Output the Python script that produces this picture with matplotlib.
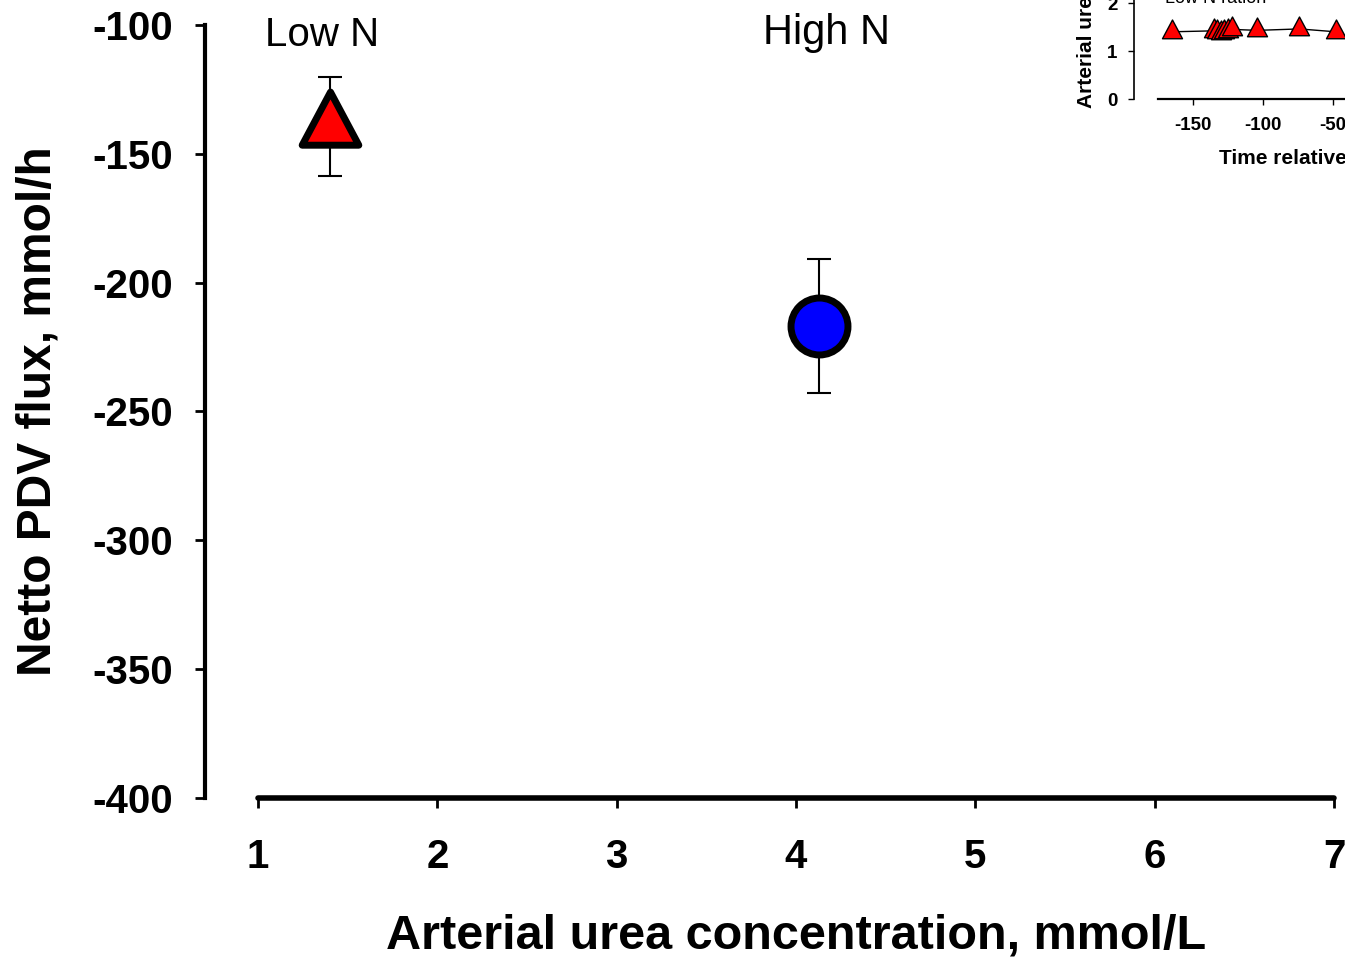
import numpy as np
import matplotlib
matplotlib.use("Agg")
import matplotlib.pyplot as plt
from matplotlib.path import Path
from matplotlib.markers import MarkerStyle

plt.rcParams['font.family'] = ['Liberation Sans', 'DejaVu Sans']
plt.rcParams['axes.unicode_minus'] = False

# main panel: mean arterial urea vs netto PDV flux
groups = ["Low N", "High N"]
urea = [1.40, 4.13]
flux = [-139.5, -217.0]
flux_err = [19.2, 26.0]

# inset: arterial urea over time, low N ration
time_inset = [-165, -135, -133, -130, -128, -125, -122, -104, -74, -48]
urea_inset = [1.40, 1.42, 1.40, 1.38, 1.40, 1.42, 1.45, 1.43, 1.46, 1.40]
urea_inset_err = [0.05, 0.06, 0.05, 0.05, 0.05, 0.06, 0.08, 0.06, 0.05, 0.05]

# triangle centred on its centroid (as the original software draws it)
tri = MarkerStyle(Path([(0, 1), (-0.8, -0.5), (0.8, -0.5), (0, 1)],
                       [Path.MOVETO, Path.LINETO, Path.LINETO, Path.CLOSEPOLY]),
                  joinstyle="round")

W, H = 1345, 959
fig = plt.figure(figsize=(W / 100, H / 100), dpi=100)

# main axes, positions in pixels
x0, x1 = 205, 1334
y_top, y_bot = 25, 798
ax = fig.add_axes([x0 / W, 1 - y_bot / H, (x1 - x0) / W, (y_bot - y_top) / H])
ax.set_xlim(1 - (258 - 205) / ((1334 - 258) / 6), 7)
ax.set_ylim(-400, -100)

for sp in ["top", "right"]:
    ax.spines[sp].set_visible(False)
ax.spines["left"].set_linewidth(3)
ax.spines["bottom"].set_linewidth(4)
ax.spines["bottom"].set_bounds(1, 7)
ax.spines["bottom"].set_capstyle("round")

ax.set_xticks(range(1, 8))
ax.set_yticks(range(-400, -99, 50))
ax.tick_params(axis="both", direction="out", length=7, width=2)
ax.tick_params(axis="x", pad=22, labelsize=29)
ax.tick_params(axis="y", pad=16, labelsize=29)
for lab in ax.get_xticklabels() + ax.get_yticklabels():
    lab.set_fontweight("bold")

ax.errorbar(urea, flux, yerr=flux_err, fmt="none", ecolor="black",
            elinewidth=1.5, capsize=8.5, capthick=1.5, clip_on=False, zorder=2)
ax.plot(urea[0], flux[0], marker=tri, ms=51, mfc="red", mec="black", mew=5,
        ls="none", clip_on=False, zorder=3)
ax.plot(urea[1], flux[1], marker="o", ms=41, mfc="blue", mec="black", mew=5,
        ls="none", clip_on=False, zorder=3)

ax.text(urea[0] - 0.04, -104, groups[0], fontsize=29, ha="center", va="center")
ax.text(urea[1] + 0.04, -103, groups[1], fontsize=30, ha="center", va="center")

ax.set_xlabel("Arterial urea concentration, mmol/L", fontsize=35,
              fontweight="bold")
ax.xaxis.set_label_coords((796 - x0) / (x1 - x0), -(913 - y_bot) / (y_bot - y_top))
ax.set_ylabel("Netto PDV flux, mmol/h", fontsize=34.5, fontweight="bold")
ax.yaxis.set_label_coords(-(x0 - 61) / (x1 - x0), (y_bot - 411) / (y_bot - y_top))

# inset axes (partly outside the figure, as in the cropped original)
px_per_t = 70 / 50
ix0 = 1134
t_left = -150 - (1193 - ix0) / px_per_t
t_right = 0
iy0 = 99
px_per_u = 48
ax2 = fig.add_axes([ix0 / W, 1 - iy0 / H, (t_right - t_left) * px_per_t / W,
                    3 * px_per_u / H])
ax2.set_xlim(t_left, t_right)
ax2.set_ylim(0, 3)
for sp in ["top", "right"]:
    ax2.spines[sp].set_visible(False)
ax2.spines["left"].set_linewidth(1.2)
ax2.spines["bottom"].set_linewidth(1.6)
ax2.spines["bottom"].set_bounds(-175, t_right)
ax2.set_xticks([-150, -100, -50])
ax2.set_yticks([0, 1, 2])
ax2.tick_params(axis="both", direction="out", length=4, width=1, labelsize=13.5)
ax2.tick_params(axis="x", pad=9)
ax2.tick_params(axis="y", pad=8)
for lab in ax2.get_xticklabels() + ax2.get_yticklabels():
    lab.set_fontweight("bold")
ax2.errorbar(time_inset, urea_inset, yerr=urea_inset_err, fmt="none",
             ecolor="black", elinewidth=1, capsize=3, clip_on=False)
ax2.plot(time_inset, urea_inset, marker=tri, color="black", lw=1, ms=18,
         mfc="red", mec="black", mew=1, clip_on=False)
ax2.text(-170, 2.1, "Low N ration", fontsize=13, ha="left", va="center")
ax2.set_xlabel("Time relative to feeding, min", fontsize=15, fontweight="bold")
ax2.xaxis.set_label_coords((1219 - ix0) / ((t_right - t_left) * px_per_t),
                           -(149 - iy0) / (3 * px_per_u))
ax2.xaxis.label.set_ha("left")
ax2.set_ylabel("Arterial urea, mmol/L", fontsize=15, fontweight="bold")
ax2.yaxis.set_label_coords(-(ix0 - 1077) / ((t_right - t_left) * px_per_t),
                           -(108 - iy0) / (3 * px_per_u))
ax2.yaxis.label.set_va("top")
ax2.yaxis.label.set_ha("left")

fig.savefig("out.png", dpi=100)
